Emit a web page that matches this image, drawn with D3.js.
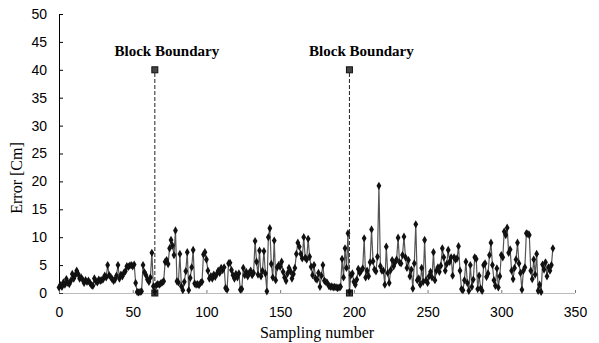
<!DOCTYPE html>
<html>
<head>
<meta charset="utf-8">
<script src="https://cdn.jsdelivr.net/npm/d3@7"></script>
<style>
  body { margin: 0; background: #fff; }
  svg { display: block; font-family: "Liberation Serif", "Times New Roman", serif; }
</style>
</head>
<body>
<div id="chart"></div>
<script>
// error values, one per sampling number starting at 0
const errorValues = [
  1.0, 1.4, 1.1, 1.9, 1.5, 2.5, 1.8, 1.6, 2.2, 3.4,
  2.6, 3.2, 4.0, 3.4, 2.6, 2.8, 2.4, 1.8, 2.3, 2.0,
  2.2, 1.8, 1.4, 1.3, 2.6, 2.1, 1.9, 2.4, 2.2, 2.3,
  2.5, 3.1, 2.8, 5.0, 3.2, 2.9, 2.5, 2.2, 2.4, 3.1,
  5.0, 2.6, 3.3, 3.0, 3.6, 3.9, 4.8, 4.7, 4.9, 5.0,
  4.8, 5.1, 1.8, 0.2, 0.1, 0.2, 0.3, 5.0, 3.7, 3.2,
  2.4, 2.0, 2.8, 7.2, 1.2, 0.2, 1.4, 1.6, 1.5, 1.7,
  1.9, 2.1, 5.6, 5.9, 5.2, 8.0, 9.5, 8.5, 6.8, 11.2,
  2.1, 1.9, 7.0, 1.2, 0.5, 2.0, 3.9, 7.3, 0.5, 2.7,
  4.6, 7.7, 1.7, 1.5, 1.6, 1.4, 1.8, 2.0, 6.9, 7.3,
  6.0, 4.0, 2.6, 3.0, 2.6, 3.3, 2.9, 3.4, 4.0, 3.6,
  4.5, 4.1, 4.6, 0.9, 0.6, 5.3, 5.4, 4.1, 3.2, 2.6,
  3.4, 2.8, 3.5, 0.6, 0.7, 4.5, 3.2, 3.8, 3.0, 3.6,
  4.0, 3.2, 3.6, 9.3, 5.6, 3.3, 7.6, 3.0, 4.0, 7.5,
  3.5, 0.3, 10.0, 11.6, 5.2, 2.8, 9.4, 2.3, 4.6, 5.0,
  4.7, 5.6, 3.8, 2.8, 2.2, 3.5, 4.5, 3.9, 2.6, 3.4,
  4.5, 7.0, 9.0, 8.3, 7.0, 6.2, 10.0, 6.3, 6.0, 9.7,
  6.5, 4.7, 3.2, 5.0, 2.6, 2.4, 3.6, 1.1, 3.1, 5.0,
  2.2, 2.0, 1.8, 1.3, 1.1, 1.2, 1.0, 1.1, 1.0, 0.9,
  1.0, 1.1, 6.1, 2.8, 8.0, 4.5, 10.7, 0.2, 3.2, 3.5,
  2.0, 1.5, 2.4, 4.3, 3.6, 4.0, 4.4, 9.8, 2.8, 4.0,
  3.0, 5.5, 11.4, 5.7, 4.2, 3.9, 6.5, 19.2, 4.8, 4.0,
  4.0, 1.5, 8.3, 3.6, 1.8, 4.1, 5.9, 4.8, 5.5, 6.0,
  9.9, 5.5, 5.3, 6.8, 10.1, 6.4, 4.5, 5.9, 3.0, 4.2,
  0.8, 5.3, 12.3, 2.3, 2.6, 1.5, 4.5, 2.0, 9.5, 2.3,
  1.8, 3.0, 3.8, 2.8, 7.3, 2.3, 4.0, 4.6, 3.8, 4.9,
  8.0, 6.4, 4.0, 5.2, 7.7, 5.6, 6.4, 3.1, 6.4, 6.0,
  6.2, 8.4, 4.0, 0.7, 0.5, 2.3, 5.6, 1.8, 0.4, 5.0,
  1.1, 2.4, 6.4, 6.1, 0.7, 3.1, 0.8, 0.4, 5.0, 5.3,
  2.9, 3.5, 6.8, 9.0, 5.0, 2.3, 1.3, 4.4, 1.0, 3.0,
  6.8, 6.4, 11.0, 10.4, 11.7, 7.2, 7.8, 4.0, 2.5, 4.5,
  6.0, 9.0, 5.3, 3.6, 0.6, 4.0, 4.6, 10.7, 10.6, 10.4,
  4.0, 2.5, 6.0, 3.3, 7.0, 0.4, 1.5, 0.2, 5.1, 4.2,
  5.5, 3.0, 4.6, 4.0, 5.0, 8.0
];
const boundaries = [65, 197];
const boundaryTop = 40;
const boundaryLabel = "Block Boundary";
const xTicks = [0, 50, 100, 150, 200, 250, 300, 350];
const yTicks = [0, 5, 10, 15, 20, 25, 30, 35, 40, 45, 50];

const width = 599, height = 343;
const margin = { top: 14, right: 24, bottom: 50, left: 59 };

const svg = d3.select("#chart").append("svg")
    .attr("width", width)
    .attr("height", height);

const x = d3.scaleLinear().domain([0, 350]).range([margin.left, width - margin.right]);
const y = d3.scaleLinear().domain([0, 50]).range([height - margin.bottom, margin.top]);

// y axis
const yAxis = svg.append("g")
    .attr("transform", "translate(" + margin.left + ",0)")
    .call(d3.axisLeft(y).tickValues(yTicks).tickSizeInner(-4).tickSizeOuter(0).tickPadding(12));
yAxis.select(".domain").attr("stroke", "#000");
yAxis.selectAll("text").attr("font-size", 14).attr("fill", "#000");

// x axis
const xAxis = svg.append("g")
    .attr("transform", "translate(0," + y(0) + ")")
    .call(d3.axisBottom(x).tickValues(xTicks).tickSizeInner(-3).tickSizeOuter(0).tickPadding(14));
xAxis.select(".domain").attr("stroke", "#777").attr("stroke-dasharray", "1,1");
xAxis.selectAll(".tick line").attr("stroke", "#777");
xAxis.selectAll("text").attr("font-size", 14).attr("fill", "#000");

// titles
svg.append("text")
    .attr("x", (x(0) + x(350)) / 2)
    .attr("y", 338)
    .attr("text-anchor", "middle")
    .attr("font-size", 16)
    .text("Sampling number");

svg.append("text")
    .attr("transform", "translate(22,178) rotate(-90)")
    .attr("text-anchor", "middle")
    .attr("font-size", 16)
    .text("Error [Cm]");

// block boundaries
boundaries.forEach(b => {
    svg.append("line")
        .attr("x1", x(b)).attr("x2", x(b))
        .attr("y1", y(0)).attr("y2", y(boundaryTop))
        .attr("stroke", "#222")
        .attr("stroke-width", 1)
        .attr("stroke-dasharray", "4,2");
    [0, boundaryTop].forEach(v => {
        svg.append("rect")
            .attr("x", x(b) - 3).attr("y", y(v) - 3)
            .attr("width", 6).attr("height", 6)
            .attr("fill", "#444").attr("stroke", "#111");
    });
    svg.append("text")
        .attr("x", x(b) + 12)
        .attr("y", 56)
        .attr("text-anchor", "middle")
        .attr("font-size", 15)
        .attr("font-weight", "bold")
        .text(boundaryLabel);
});

// error line
const line = d3.line()
    .x((d, i) => x(i))
    .y(d => y(d));

svg.append("path")
    .datum(errorValues)
    .attr("fill", "none")
    .attr("stroke", "#555")
    .attr("stroke-width", 1.2)
    .attr("d", line);

svg.selectAll(".pt")
    .data(errorValues)
    .enter().append("path")
    .attr("class", "pt")
    .attr("transform", (d, i) => "translate(" + x(i) + "," + y(d) + ")")
    .attr("d", d3.symbol().type(d3.symbolDiamond).size(20))
    .attr("fill", "#111");
</script>
</body>
</html>
